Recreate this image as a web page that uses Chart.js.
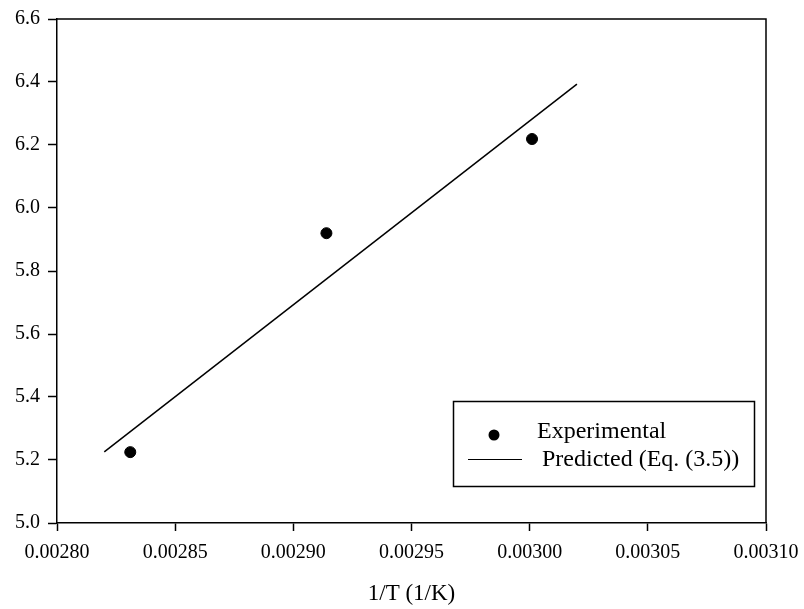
<!DOCTYPE html>
<html lang="en">
<head>
    <meta charset="UTF-8">
    <title>ln k vs 1/T</title>
    <script src="https://cdn.jsdelivr.net/npm/chart.js"></script>
    <style>
        html, body {
            margin: 0;
            padding: 0;
            background: #fff;
            overflow: hidden;
        }
        .chart-container {
            width: 804px;
            height: 609px;
        }
    </style>
</head>
<body>
    <div class="chart-container">
        <canvas id="arrhenius" width="804" height="609"></canvas>
    </div>

    <script>
        // measured points
        const expX = [0.002831, 0.002914, 0.003001];
        const expY = [5.225, 5.920, 6.219];
        // fitted line, Eq. (3.5)
        const predX = [0.00282, 0.00302];
        const predY = [5.226, 6.393];

        const xTicks = [0.00280, 0.00285, 0.00290, 0.00295, 0.00300, 0.00305, 0.00310];
        const yTicks = [5.0, 5.2, 5.4, 5.6, 5.8, 6.0, 6.2, 6.4, 6.6];

        const FONT = "'Liberation Serif', 'Times New Roman', serif";

        // frame on top/right plus the boxed legend inside the plot
        const framePlugin = {
            id: 'frame',
            afterDraw(chart) {
                const { ctx, chartArea: a } = chart;
                ctx.save();
                ctx.strokeStyle = '#000';
                ctx.lineWidth = 1.5;
                ctx.beginPath();
                ctx.moveTo(a.left, a.top);
                ctx.lineTo(a.right, a.top);
                ctx.lineTo(a.right, a.bottom);
                ctx.stroke();

                // legend box
                ctx.lineWidth = 1.5;
                ctx.strokeRect(453.5, 401.5, 301, 85);

                ctx.fillStyle = '#000';
                ctx.beginPath();
                ctx.arc(494, 435, 5.5, 0, Math.PI * 2);
                ctx.fill();

                ctx.lineWidth = 1;
                ctx.beginPath();
                ctx.moveTo(468, 459.5);
                ctx.lineTo(522, 459.5);
                ctx.stroke();

                ctx.font = '24px ' + FONT;
                ctx.textBaseline = 'alphabetic';
                ctx.textAlign = 'left';
                ctx.fillText('Experimental', 537, 438);
                ctx.fillText('Predicted (Eq. (3.5))', 542, 466);
                ctx.restore();
            }
        };

        const ctx = document.getElementById('arrhenius').getContext('2d');
        new Chart(ctx, {
            type: 'scatter',
            data: {
                datasets: [
                    {
                        label: 'Experimental',
                        data: expX.map((x, i) => ({ x: x, y: expY[i] })),
                        backgroundColor: '#000',
                        borderColor: '#000',
                        pointRadius: 5.5,
                        pointHoverRadius: 5.5,
                        showLine: false
                    },
                    {
                        label: 'Predicted (Eq. (3.5))',
                        data: predX.map((x, i) => ({ x: x, y: predY[i] })),
                        borderColor: '#000',
                        borderWidth: 1.5,
                        pointRadius: 0,
                        showLine: true
                    }
                ]
            },
            options: {
                responsive: false,
                animation: false,
                maintainAspectRatio: false,
                layout: {
                    padding: { top: 19, right: 38, left: 0, bottom: 0 }
                },
                plugins: {
                    legend: { display: false },
                    tooltip: { enabled: false }
                },
                scales: {
                    x: {
                        type: 'linear',
                        min: 0.0028,
                        max: 0.0031,
                        afterBuildTicks(scale) {
                            scale.ticks = xTicks.map(v => ({ value: v }));
                        },
                        afterFit(scale) {
                            scale.height = 86;
                            // end labels may overhang the plot edges
                            scale.paddingLeft = 0;
                            scale.paddingRight = 0;
                        },
                        ticks: {
                            color: '#000',
                            font: { family: FONT, size: 20 },
                            padding: 10,
                            maxRotation: 0,
                            autoSkip: false,
                            callback: v => Number(v).toFixed(5)
                        },
                        grid: {
                            drawOnChartArea: false,
                            drawTicks: true,
                            tickLength: 8,
                            tickColor: '#000',
                            tickWidth: 1.5
                        },
                        border: { display: true, color: '#000', width: 1.5 },
                        title: {
                            display: true,
                            text: '1/T (1/K)',
                            color: '#000',
                            font: { family: FONT, size: 23 },
                            padding: { top: 10, bottom: 1 }
                        }
                    },
                    y: {
                        min: 5.0,
                        max: 6.6,
                        afterBuildTicks(scale) {
                            scale.ticks = yTicks.map(v => ({ value: v }));
                        },
                        afterFit(scale) {
                            scale.width = 57;
                            scale.paddingTop = 0;
                            scale.paddingBottom = 0;
                        },
                        ticks: {
                            color: '#000',
                            font: { family: FONT, size: 20 },
                            padding: 8,
                            autoSkip: false,
                            callback: v => Number(v).toFixed(1)
                        },
                        grid: {
                            drawOnChartArea: false,
                            drawTicks: true,
                            tickLength: 9,
                            tickColor: '#000',
                            tickWidth: 1.5
                        },
                        border: { display: true, color: '#000', width: 1.5 }
                    }
                }
            },
            plugins: [framePlugin]
        });
    </script>
</body>
</html>
